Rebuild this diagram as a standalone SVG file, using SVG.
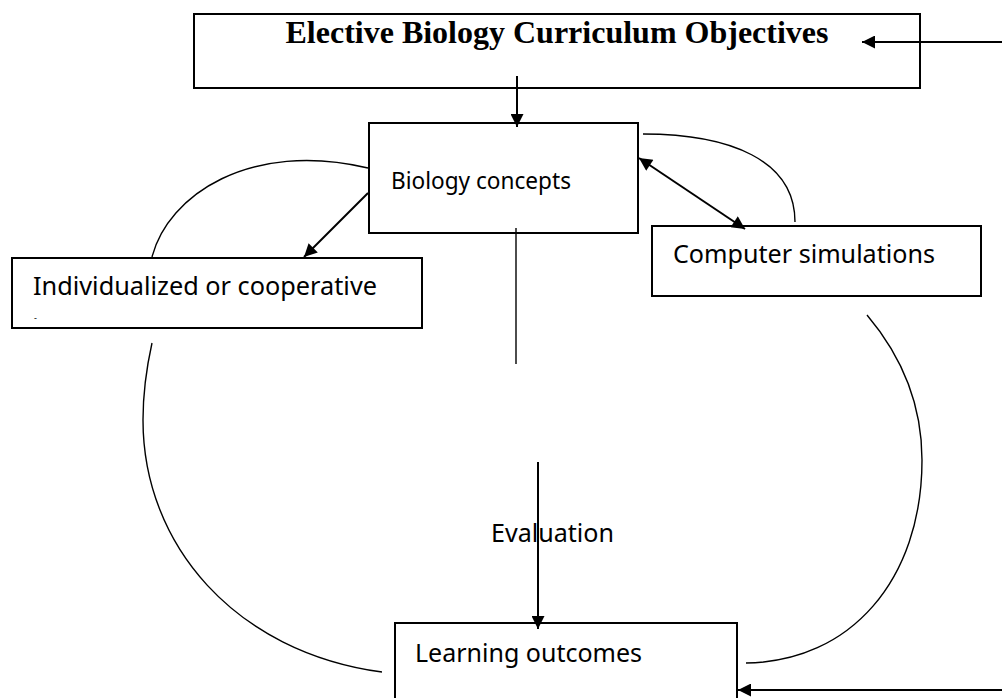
<svg xmlns="http://www.w3.org/2000/svg" width="1002" height="698" viewBox="0 0 1002 698">
<defs>
<style>
.box{fill:none;stroke:#000;stroke-width:2}
.lbl{font-family:"Noto Sans","Open Sans",sans-serif;fill:#000}
.ttl{font-family:"Liberation Serif","Times New Roman",serif;font-weight:bold;fill:#000}
.conn{stroke:#000;stroke-width:2;fill:none}
.thin{stroke-width:1.4}
</style>
<marker id="ah" viewBox="0 0 10 10" refX="10" refY="5" markerWidth="16" markerHeight="13" markerUnits="userSpaceOnUse" orient="auto-start-reverse">
<path d="M0,0 L10,5 L0,10 z" fill="#000"/>
</marker>
</defs>
<rect width="1002" height="698" fill="#fff"/>

<g id="connectors">
<line class="conn" x1="1002" y1="42" x2="862" y2="42" marker-end="url(#ah)"/>
<line class="conn" x1="517" y1="76" x2="517" y2="127" marker-end="url(#ah)"/>
<line class="conn" x1="368" y1="193" x2="304" y2="257" marker-end="url(#ah)"/>
<line class="conn" x1="639" y1="158" x2="745" y2="229" marker-start="url(#ah)" marker-end="url(#ah)"/>
<path class="conn thin" d="M152,257 C168,195 250,140 368,168"/>
<path class="conn thin" d="M643,134 C730,134 795,160 795,222"/>
<path class="conn thin" d="M152,343 C146,370 143,395 143,420 C143,545 235,652 382,672"/>
<path class="conn thin" d="M867,315 C905,360 922,410 922,460 C922,580 850,662 746,663"/>
<line class="conn thin" x1="516" y1="228" x2="516" y2="364"/>
<line class="conn" x1="538" y1="462" x2="538" y2="629" marker-end="url(#ah)"/>
<line class="conn" x1="1002" y1="690" x2="738" y2="690" marker-end="url(#ah)"/>
</g>

<g id="objectives">
<rect class="box" x="194" y="14" width="726" height="74"/>
<text class="ttl" x="557" y="43" font-size="32" text-anchor="middle" textLength="543" lengthAdjust="spacingAndGlyphs">Elective Biology Curriculum Objectives</text>
</g>

<g id="biology-concepts">
<rect class="box" x="369" y="123" width="269" height="110"/>
<text class="lbl" x="391" y="189" font-size="23.5" textLength="180" lengthAdjust="spacingAndGlyphs">Biology concepts</text>
</g>

<g id="individualized">
<rect class="box" x="12" y="258" width="410" height="70"/>
<text class="lbl" x="33" y="295" font-size="26" textLength="344" lengthAdjust="spacingAndGlyphs">Individualized or cooperative</text>
<text class="lbl" x="34" y="321" font-size="9">-</text>
</g>

<g id="computer-simulations">
<rect class="box" x="652" y="226" width="329" height="70"/>
<text class="lbl" x="673" y="263" font-size="26" textLength="262" lengthAdjust="spacingAndGlyphs">Computer simulations</text>
</g>

<g id="evaluation">
<text class="lbl" x="491" y="542" font-size="26" textLength="123" lengthAdjust="spacingAndGlyphs">Evaluation</text>
</g>

<g id="learning-outcomes">
<rect class="box" x="395" y="623" width="342" height="90"/>
<text class="lbl" x="415" y="662" font-size="26" textLength="227" lengthAdjust="spacingAndGlyphs">Learning outcomes</text>
</g>
</svg>
